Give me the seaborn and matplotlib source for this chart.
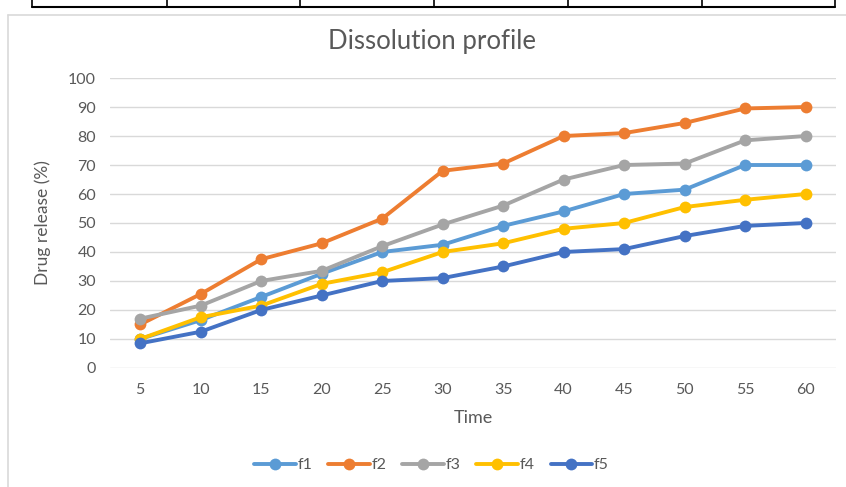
import pandas as pd
import matplotlib.pyplot as plt
import seaborn as sns
from matplotlib.lines import Line2D

time = [5, 10, 15, 20, 25, 30, 35, 40, 45, 50, 55, 60]
f1 = [10, 16.5, 24.5, 32.5, 40, 42.5, 49, 54, 60, 61.5, 70, 70]
f2 = [15, 25.5, 37.5, 43, 51.5, 68, 70.5, 80, 81, 84.5, 89.5, 90]
f3 = [17, 21.5, 30, 33.5, 42, 49.5, 56, 65, 70, 70.5, 78.5, 80]
f4 = [10, 17.5, 21.5, 29, 33, 40, 43, 48, 50, 55.5, 58, 60]
f5 = [8.5, 12.5, 20, 25, 30, 31, 35, 40, 41, 45.5, 49, 50]
series = ['f1', 'f2', 'f3', 'f4', 'f5']
colors = ['#5B9BD5', '#ED7D31', '#A5A5A5', '#FFC000', '#4472C4']

# long format for seaborn
df = pd.DataFrame({'Time': time, 'f1': f1, 'f2': f2, 'f3': f3, 'f4': f4, 'f5': f5})
df = df.melt(id_vars='Time', var_name='Formulation', value_name='Release')

sns.set_style('white')
plt.rcParams['font.family'] = ['Lato', 'DejaVu Sans']
txt = '#595959'

fig = plt.figure(figsize=(8.46, 4.87), dpi=100)
ax = fig.add_axes([0.130, 0.2444, 0.858, 0.5954])

sns.lineplot(data=df, x='Time', y='Release', hue='Formulation', hue_order=series,
             palette=colors, marker='o', markersize=8.5, markeredgewidth=0,
             linewidth=2.8, legend=False, ax=ax)

ax.set_xlim(2.5, 62.5)
ax.set_ylim(0, 100)
ax.set_xticks(time)
ax.set_yticks(range(0, 101, 10))
ax.tick_params(axis='both', length=0, labelsize=11.5, colors=txt)
ax.tick_params(axis='x', pad=11)
ax.tick_params(axis='y', pad=10)
ax.grid(axis='y', color='#D9D9D9', linewidth=1)
ax.set_axisbelow(True)
for s in ax.spines.values():
    s.set_visible(False)

ax.set_xlabel('Time', fontsize=13, color=txt, labelpad=9)
ax.set_ylabel('Drug release (%)', fontsize=12.5, color=txt, labelpad=12)
fig.text(0.511, 0.915, 'Dissolution profile', ha='center', va='center',
         fontsize=18.5, color=txt)

handles = [Line2D([], [], color=c, lw=2.8, marker='o', markersize=8.5,
                  markeredgewidth=0) for c in colors]
fig.legend(handles, series, loc='center', bbox_to_anchor=(0.51, 0.045), ncol=5,
           frameon=False, fontsize=11.5, labelcolor=txt, handlelength=2.6,
           handletextpad=0.1, columnspacing=1.0)

# surrounding table / chart frame
fig.add_artist(Line2D([32 / 846, 835 / 846], [1 - 7 / 487] * 2, color='black', lw=1.5))
for xp in [32, 167, 300, 434, 568, 702, 835]:
    fig.add_artist(Line2D([xp / 846] * 2, [1 - 7 / 487, 1.0], color='black', lw=1.2))
fig.add_artist(Line2D([8 / 846, 1.0], [1 - 15 / 487] * 2, color='#D9D9D9', lw=1.2))
fig.add_artist(Line2D([8 / 846] * 2, [0, 1 - 15 / 487], color='#D9D9D9', lw=1.2))

fig.savefig('out.png', dpi=100)
